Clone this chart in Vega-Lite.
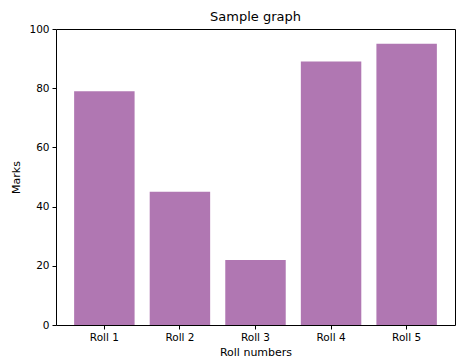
{
  "$schema": "https://vega.github.io/schema/vega-lite/v6.json",
  "width": 399,
  "height": 296,
  "autosize": {"type": "none"},
  "padding": {"left": 56, "top": 29, "right": 19, "bottom": 37},
  "background": "white",
  "title": {"text": "Sample graph", "font": "DejaVu Sans", "fontSize": 13, "fontWeight": "normal", "color": "black", "offset": 0},
  "data": {"values": [
    {"roll": "Roll 1", "marks": 79},
    {"roll": "Roll 2", "marks": 45},
    {"roll": "Roll 3", "marks": 22},
    {"roll": "Roll 4", "marks": 89},
    {"roll": "Roll 5", "marks": 95}
  ]},
  "mark": {"type": "bar", "color": "#b077b2", "opacity": 1},
  "encoding": {
    "x": {"field": "roll", "type": "nominal", "title": "Roll numbers", "sort": null,
      "scale": {"paddingInner": 0.2, "paddingOuter": 0.24},
      "axis": {"labelAngle": 0, "titlePadding": 4}},
    "y": {"field": "marks", "type": "quantitative", "title": "Marks",
      "scale": {"domain": [0, 100], "nice": false},
      "axis": {"values": [0, 20, 40, 60, 80, 100], "titlePadding": 7}}
  },
  "config": {
    "view": {"stroke": "black", "strokeWidth": 1},
    "axis": {
      "grid": false,
      "domain": false,
      "tickColor": "black",
      "tickSize": 4,
      "labelFont": "DejaVu Sans",
      "labelFontSize": 10.5,
      "labelColor": "black",
      "labelPadding": 3,
      "titleFont": "DejaVu Sans",
      "titleFontSize": 11,
      "titleFontWeight": "normal",
      "titleColor": "black"
    }
  }
}
